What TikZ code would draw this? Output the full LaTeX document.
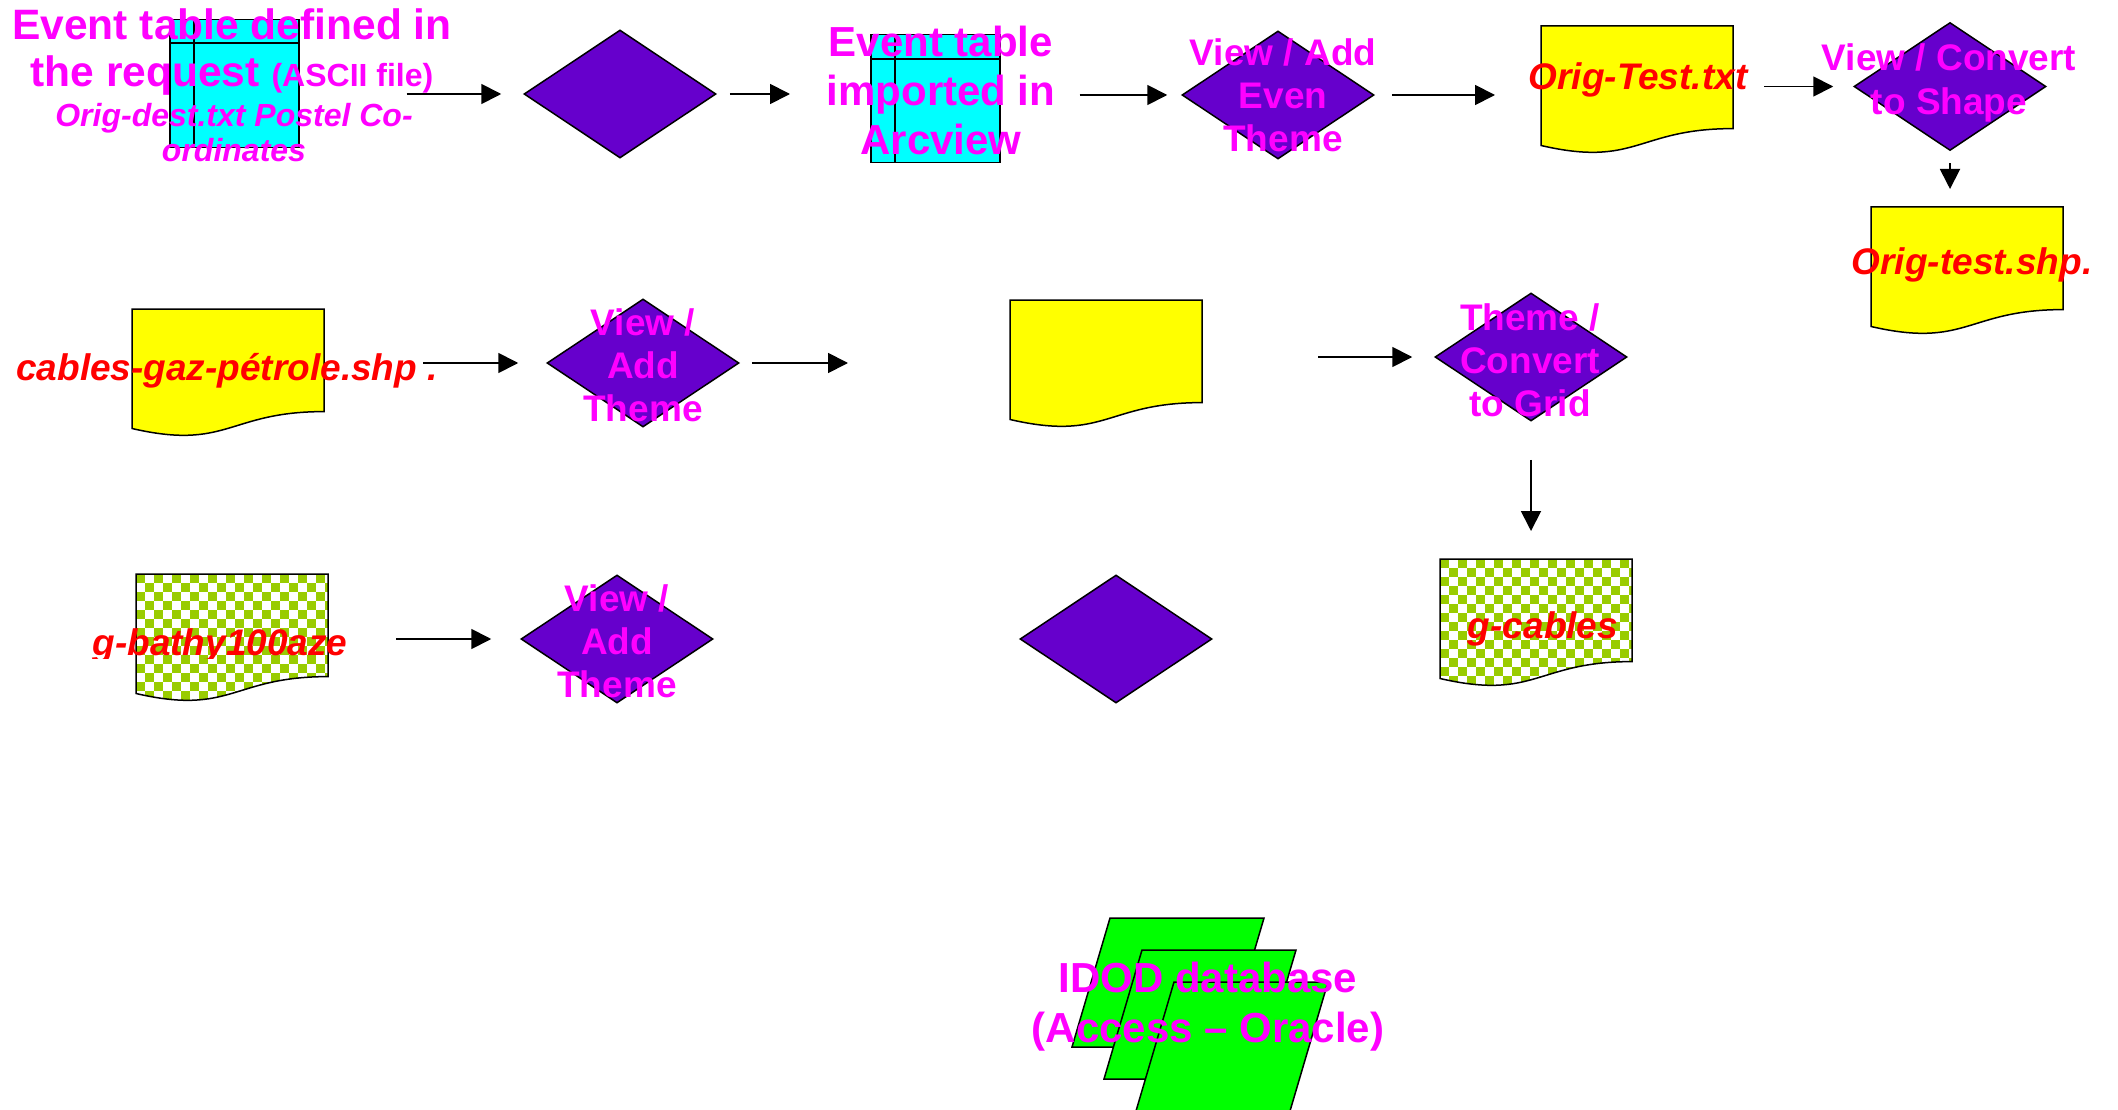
\documentclass[tikz,border=0pt]{standalone}
\usepackage{fontspec}
\setmainfont{Liberation Sans}
\usetikzlibrary{arrows.meta, shapes.geometric}

\definecolor{boxviolet}{HTML}{6600CC}
\definecolor{lblmagenta}{HTML}{FF00FF}
\definecolor{fnamered}{HTML}{FF0000}
\definecolor{tabcyan}{HTML}{00FFFF}
\definecolor{docyellow}{HTML}{FFFF00}
\definecolor{checkgreen}{HTML}{99CC00}
\definecolor{dbgreen}{HTML}{00FF00}

% outline of a document sheet, top left corner at (#1,#2)
\newcommand{\docpath}[2]{(#1,#2) -- ({#1+192},#2) -- ({#1+192},{#2+102.6})
  .. controls ({#1+96},{#2+102.6}) and ({#1+96},{#2+141.7}) .. (#1,{#2+119.5}) -- cycle}

% plain sheet: name, x, y, fill
\newcommand{\docsheet}[4]{%
  \draw[outline, fill=#4] \docpath{#2}{#3};
  \node[docbox] (#1) at (#2,#3) {};}

% chequered sheet: name, x, y
\newcommand{\checksheet}[3]{%
  \fill[white] \docpath{#2}{#3};
  \begin{scope}
    \clip \docpath{#2}{#3};
    \foreach \i in {0,...,10} {
      \foreach \j in {0,...,7} {
        \fill[checkgreen] ({#2+2*\i*9},{#3+2*\j*9}) rectangle ++(9,9);
        \fill[checkgreen] ({#2+(2*\i+1)*9},{#3+(2*\j+1)*9}) rectangle ++(9,9);
      }
    }
  \end{scope}
  \draw[outline] \docpath{#2}{#3};
  \node[docbox] (#1) at (#2,#3) {};}

\begin{document}
\begin{tikzpicture}[
    x=1pt, y=-1pt,
    outline/.style={draw=black, line width=1.5pt},
    diam/.style={diamond, draw, line width=1.5pt, fill=boxviolet,
      minimum width=192pt, minimum height=128pt, inner sep=0pt},
    tabbox/.style={draw, line width=1.5pt, fill=tabcyan, anchor=north west,
      minimum width=129pt, minimum height=128pt, inner sep=0pt},
    docbox/.style={anchor=north west, minimum width=192pt,
      minimum height=128pt, inner sep=0pt},
    arrow/.style={-{Triangle[length=20pt, width=20pt]}, line width=1.8pt},
    lbl/.style={text=lblmagenta, font=\bfseries\fontsize{37}{43}\selectfont,
      align=center, inner sep=0pt, anchor=base},
    fname/.style={text=fnamered, font=\bfseries\itshape\fontsize{37}{43}\selectfont,
      inner sep=0pt, anchor=base}
  ]
  \useasboundingbox (0,0) rectangle (2118,1110);

  % Row 1
  \node[tabbox] (tab1) at (169,19) {};
  \draw[line width=1.5pt] ([yshift=-24pt]tab1.north west) -- ([yshift=-24pt]tab1.north east);
  \draw[line width=1.5pt] ([xshift=25pt]tab1.north west) -- ([xshift=25pt]tab1.south west);
  \node[diam] (dia1) at (620,94) {};
  \node[tabbox] (tab2) at (870,34) {};
  \draw[line width=1.5pt] ([yshift=-25pt]tab2.north west) -- ([yshift=-25pt]tab2.north east);
  \draw[line width=1.5pt] ([xshift=25pt]tab2.north west) -- ([xshift=25pt]tab2.south west);
  \node[diam] (dia2) at (1278,95) {};
  \docsheet{origtxt}{1541}{26}{docyellow}
  \node[diam] (dia3) at (1950,86.5) {};
  \docsheet{origshp}{1871}{207}{docyellow}

  % Row 2
  \docsheet{cables}{132}{309}{docyellow}
  \node[diam] (dia4) at (643,363) {};
  \docsheet{blank}{1010}{300}{docyellow}
  \node[diam] (dia5) at (1531,357) {};

  % Row 3
  \checksheet{bathy}{136}{574}
  \node[diam] (dia6) at (617,639) {};
  \node[diam] (dia7) at (1116,639) {};
  \checksheet{gcables}{1440}{559}

  % Database
  \foreach \k in {0,1,2}
    \draw[outline, fill=dbgreen] ({1110+32*\k},{918+32*\k}) -- ++(154,0)
      -- ++(-38,129) -- ++(-154,0) -- cycle;

  % Arrows
  \draw[arrow, shorten <=107pt, shorten >=22pt] (tab1.east |- dia1.west) -- (dia1.west);
  \draw[arrow, shorten <=13pt, shorten >=80pt] (dia1.east) -- (dia1.east -| tab2.west);
  \draw[arrow, shorten <=79pt, shorten >=14pt] (tab2.east |- dia2.west) -- (dia2.west);
  \draw[arrow, shorten <=17pt, shorten >=46pt] (dia2.east) -- (dia2.east -| origtxt.west);
  \draw[arrow, shorten <=31pt, shorten >=20pt] (origtxt.east |- dia3.west) -- (dia3.west);
  \draw[arrow, shorten <=12pt, shorten >=18pt] (dia3.south) -- (dia3.south |- origshp.north);
  \draw[arrow, shorten <=99pt, shorten >=28pt] (cables.east |- dia4.west) -- (dia4.west);
  \draw[arrow, shorten <=12pt, shorten >=162pt] (dia4.east) -- (dia4.east -| blank.west);
  \draw[arrow, shorten <=116pt, shorten >=22pt] (blank.east |- dia5.west) -- (dia5.west);
  \draw[arrow, shorten <=38pt, shorten >=28pt] (dia5.south) -- (dia5.south |- gcables.north);
  \draw[arrow, shorten <=68pt, shorten >=29pt] (bathy.east |- dia6.west) -- (dia6.west);

  % Labels (anchor base = last line)
  \node[lbl, font=\bfseries\fontsize{42.5}{47}\selectfont] (reqtext) at (232,87)
    {Event table defined in\\the request {\fontsize{32}{47}\selectfont (ASCII file)}};
  \node[lbl, font=\bfseries\itshape\fontsize{32}{35}\selectfont] (reqfile) at (234,162)
    {Orig-dest.txt Postel Co-\\ordinates};
  \node[lbl, font=\bfseries\fontsize{42}{49}\selectfont] (arctext) at (941,155)
    {Event table\\imported in\\Arcview};
  \node[lbl] (dia2txt) at (1283,152) {View / Add\\Even\\Theme};
  \node[fname] (origtxtlbl) at (1638,90) {Orig-Test.txt};
  \node[lbl, font=\bfseries\fontsize{37}{44}\selectfont] (dia3txt) at (1949,115)
    {View / Convert\\to Shape};
  \node[fname] (origshplbl) at (1972,274) {Orig-test.shp.};
  \node[fname] (cableslbl) at (227,380) {cables-gaz-pétrole.shp .};
  \node[lbl] (dia4txt) at (643,421) {View /\\Add\\Theme};
  \node[lbl] (dia5txt) at (1530,416) {Theme /\\Convert\\to Grid};
  \begin{scope}
    \clip (0,0) rectangle (2118,658);
    \node[fname] (bathylbl) at (220,655) {g-bathy100aze};
  \end{scope}
  \node[lbl] (dia6txt) at (617,697) {View /\\Add\\Theme};
  \node[fname] (gcableslbl) at (1543,638) {g-cables};
  \node[lbl, font=\bfseries\fontsize{42}{50}\selectfont] (dbtext) at (1208,1042)
    {IDOD database\\(Access -- Oracle)};
\end{tikzpicture}
\end{document}
